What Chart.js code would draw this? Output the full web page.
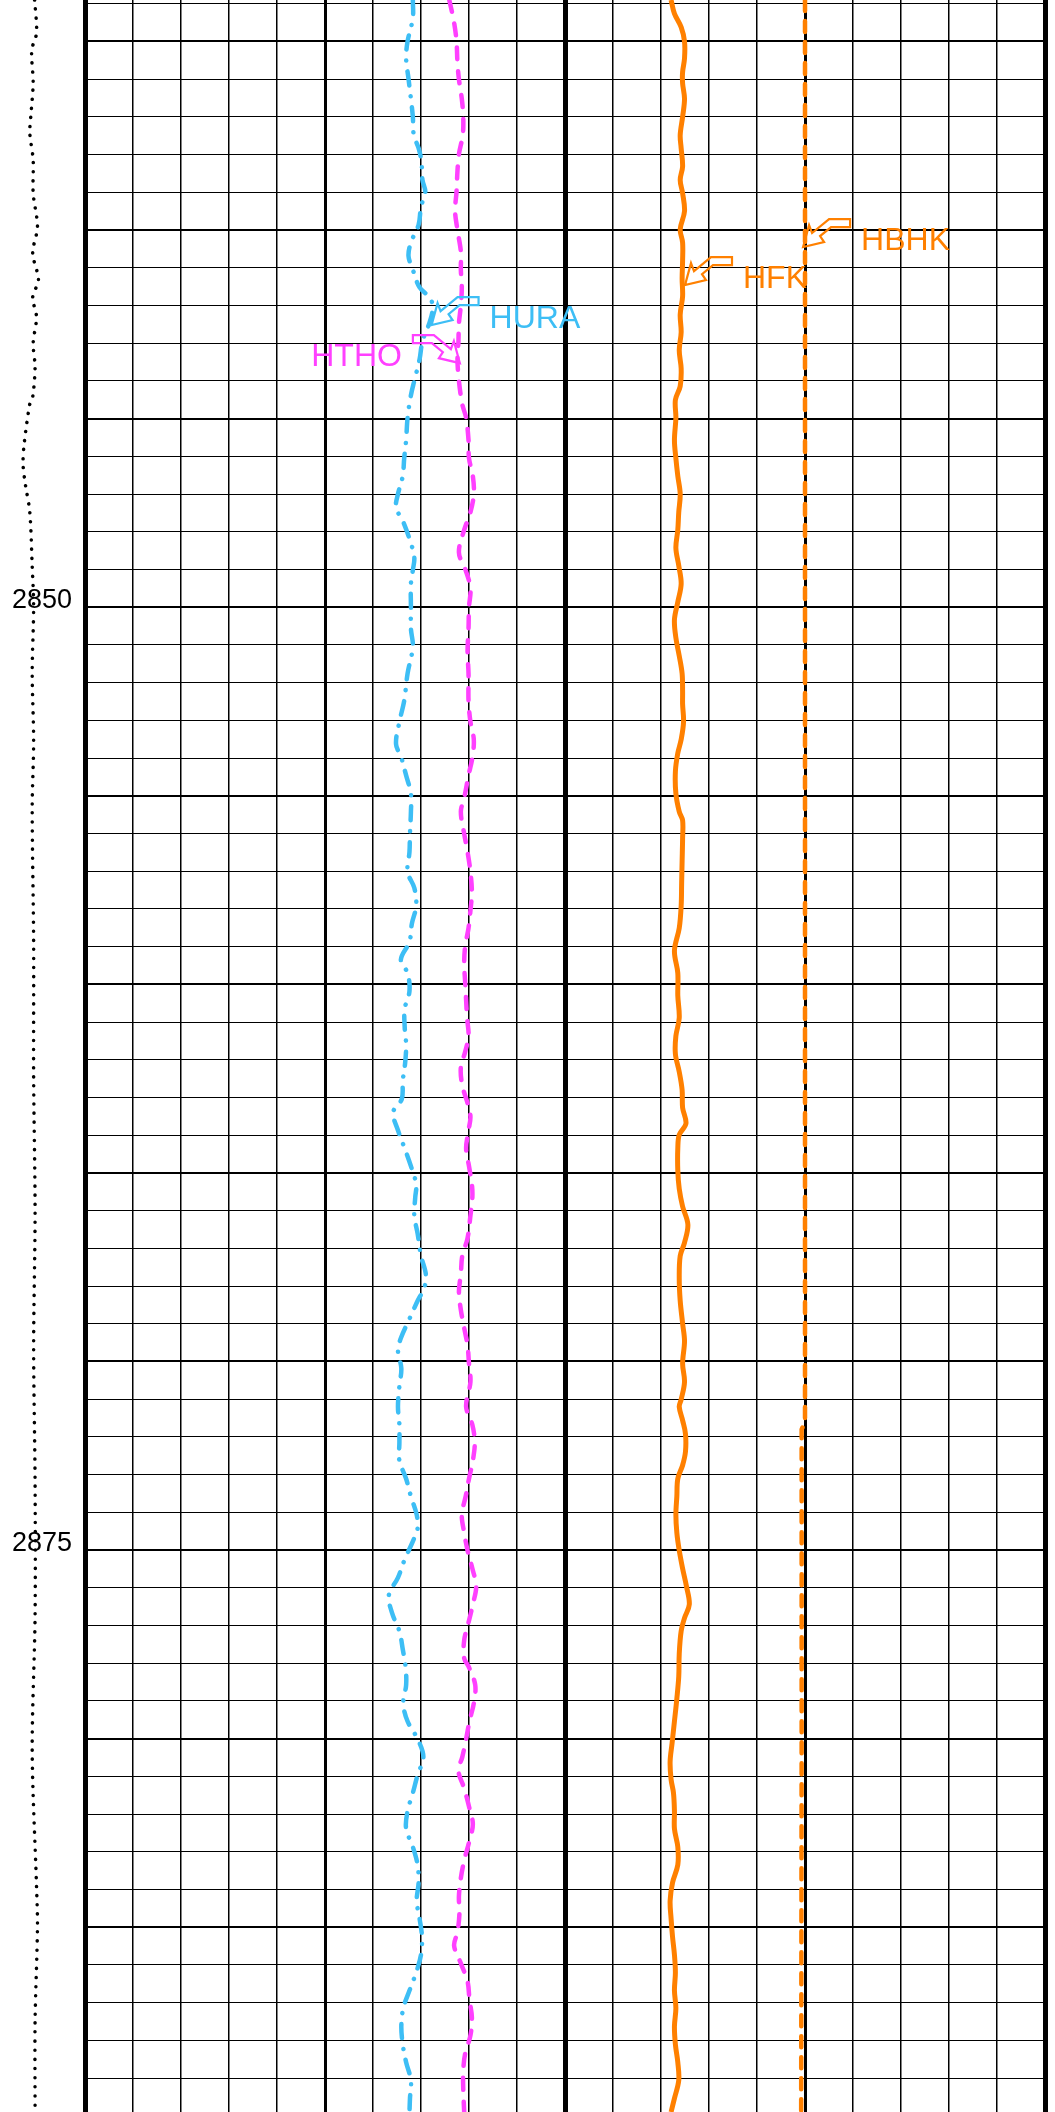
<!DOCTYPE html>
<html>
<head>
<meta charset="utf-8">
<script src="https://cdn.jsdelivr.net/npm/chart.js@4.4.0/dist/chart.umd.min.js"></script>
<style>
  body { margin: 0; background: #fff; }
  #wrap { width: 1055px; height: 2112px; }
</style>
</head>
<body>
<div id="wrap"><canvas id="logChart"></canvas></div>
<script>
// depth window of the track
var depthMin = 2833.9;
var depthMax = 2889.9;
var depthTicks = [];
for (var d = 2834; d <= 2889; d++) depthTicks.push(d);
var depthLabelStep = 25;

// HURA (blue, dash-dot)
var huraDepth = [2833.9, 2834.38, 2835.0, 2835.45, 2835.99, 2836.52, 2837.0, 2837.48, 2837.83, 2838.19, 2838.67, 2838.99, 2839.38, 2839.86, 2840.33, 2840.69, 2841.05, 2841.52, 2841.82, 2842.12, 2842.48, 2842.95, 2843.43, 2844.0, 2844.38, 2844.98, 2845.57, 2846.05, 2846.52, 2847.0, 2847.36, 2847.71, 2848.19, 2848.67, 2849.02, 2849.38, 2850.0, 2850.57, 2851.05, 2851.76, 2852.48,
  2853.04, 2853.63, 2853.99, 2854.46, 2854.94, 2855.42, 2856.01, 2856.49, 2857.02, 2857.44, 2857.92, 2858.39, 2858.87, 2859.35, 2859.7, 2860.18, 2860.65, 2861.13, 2861.61, 2862.08, 2862.56, 2863.04, 2863.39, 2863.87, 2864.35, 2864.82, 2865.3, 2865.65, 2866.13, 2866.61, 2867.2, 2867.68, 2868.04, 2868.39, 2868.87, 2869.35, 2869.7, 2870.18, 2870.65, 2871.2,
  2871.68, 2872.15, 2872.63, 2873.11, 2873.58, 2874.06, 2874.42, 2874.77, 2875.25, 2875.73, 2876.2, 2876.68, 2877.15, 2877.63, 2878.11, 2878.58, 2879.06, 2879.54, 2880.01, 2880.49, 2880.96, 2881.44, 2881.92, 2882.39, 2882.87, 2883.35, 2883.82, 2884.3, 2884.77, 2885.25, 2885.73, 2886.2, 2886.68, 2887.15, 2887.63, 2888.11, 2888.58, 2889.06, 2889.54, 2889.9];
var huraValue = [6.83, 6.83, 6.72, 6.69, 6.74, 6.79, 6.83, 6.85, 6.95, 7.01, 7.03, 7.09, 7.0, 6.95, 6.79, 6.74, 6.83, 6.97, 7.2, 7.24, 7.17, 7.03, 6.97, 6.86, 6.79, 6.72, 6.69, 6.65, 6.62, 6.52, 6.48, 6.62, 6.76, 6.86, 6.83, 6.79, 6.79, 6.79, 6.83, 6.72, 6.65,
  6.55, 6.48, 6.59, 6.69, 6.79, 6.79, 6.77, 6.76, 6.72, 6.86, 6.9, 6.81, 6.76, 6.58, 6.72, 6.76, 6.66, 6.66, 6.69, 6.67, 6.62, 6.6, 6.42, 6.52, 6.66, 6.79, 6.9, 6.88, 6.86, 6.93, 7.0, 7.1, 7.07, 6.93, 6.76, 6.59, 6.52, 6.59, 6.55, 6.52,
  6.55, 6.55, 6.55, 6.69, 6.79, 6.91, 6.93, 6.83, 6.66, 6.52, 6.33, 6.4, 6.55, 6.62, 6.68, 6.69, 6.63, 6.72, 6.93, 7.05, 6.93, 6.83, 6.72, 6.69, 6.83, 6.93, 6.95, 6.91, 6.97, 7.02, 7.0, 6.9, 6.76, 6.63, 6.59, 6.62, 6.69, 6.79, 6.77, 6.76];

// HTHO (magenta, dashed)
var hthoDepth = [2833.9, 2834.5, 2835.0, 2835.57, 2836.0, 2836.52, 2837.0, 2837.48, 2837.99, 2838.43, 2838.99, 2839.5, 2840.0, 2840.57, 2841.05, 2841.52, 2842.0, 2842.48, 2842.95, 2843.43, 2844.0, 2844.62, 2844.98, 2845.57, 2846.05, 2846.52, 2847.0, 2847.48, 2847.95, 2848.55, 2849.02, 2849.5, 2850.0, 2850.57, 2851.17, 2851.76, 2852.48,
  2853.04, 2853.51, 2853.99, 2854.46, 2855.06, 2855.42, 2856.01, 2856.49, 2857.02, 2857.56, 2858.04, 2858.51, 2858.99, 2859.46, 2859.94, 2860.42, 2860.89, 2861.37, 2861.79, 2862.2, 2862.68, 2863.15, 2863.51, 2863.87, 2864.35, 2864.82, 2865.3, 2865.65, 2866.13, 2866.73, 2867.2, 2867.68, 2868.15, 2868.63, 2869.11, 2869.58, 2870.06, 2870.54, 2871.2,
  2871.68, 2872.15, 2872.63, 2873.11, 2873.58, 2874.06, 2874.54, 2875.01, 2875.49, 2875.96, 2876.44, 2876.92, 2877.39, 2877.87, 2878.11, 2878.58, 2879.06, 2879.54, 2880.01, 2880.49, 2880.85, 2881.32, 2881.8, 2882.27, 2882.75, 2883.23, 2883.7, 2884.18, 2884.65, 2885.13, 2885.49, 2885.96, 2886.44, 2886.92, 2887.39, 2887.87, 2888.35, 2888.82, 2889.3, 2889.9];
var hthoValue = [7.59, 7.69, 7.74, 7.76, 7.79, 7.85, 7.88, 7.87, 7.79, 7.76, 7.74, 7.71, 7.76, 7.83, 7.83, 7.85, 7.83, 7.79, 7.78, 7.76, 7.79, 7.86, 7.94, 7.99, 8.0, 8.08, 8.1, 8.03, 7.9, 7.79, 7.93, 8.03, 8.0, 7.99, 7.97, 7.99, 7.99,
  8.03, 8.1, 8.07, 7.99, 7.9, 7.83, 7.9, 7.97, 8.03, 8.06, 8.03, 7.99, 7.92, 7.9, 7.92, 7.94, 7.96, 7.99, 7.92, 7.83, 7.86, 7.97, 8.03, 7.99, 7.94, 8.0, 8.06, 8.07, 8.03, 7.97, 7.86, 7.83, 7.79, 7.83, 7.9, 7.97, 8.0, 8.03, 7.94,
  8.07, 8.12, 8.08, 8.0, 7.93, 7.85, 7.9, 7.97, 8.07, 8.15, 8.08, 7.99, 7.9, 7.9, 8.0, 8.13, 8.1, 8.01, 7.94, 7.86, 7.78, 7.9, 8.0, 8.08, 8.0, 7.9, 7.83, 7.79, 7.8, 7.76, 7.69, 7.83, 7.97, 8.01, 8.06, 8.03, 7.92, 7.88, 7.88, 7.9];

// HFK (orange, solid)
var hfkDepth = [2833.9, 2834.26, 2834.62, 2835.0, 2835.45, 2835.81, 2836.11, 2836.52, 2837.0, 2837.48, 2837.83, 2838.31, 2838.67, 2839.02, 2839.5, 2839.98, 2840.33, 2840.81, 2841.29, 2841.76, 2842.24, 2842.71, 2843.19, 2843.67, 2844.14, 2844.5, 2844.98, 2845.57, 2846.05, 2846.52, 2847.0, 2847.48, 2847.95, 2848.43, 2848.9, 2849.38, 2849.86, 2850.33, 2850.81, 2851.29, 2851.76, 2852.24, 2852.57,
  2853.04, 2853.51, 2853.87, 2854.35, 2854.94, 2855.42, 2855.65, 2856.13, 2856.73, 2857.32, 2857.92, 2858.51, 2859.11, 2859.7, 2860.3, 2860.89, 2861.37, 2861.85, 2862.32, 2862.8, 2863.27, 2863.69, 2863.99, 2864.35, 2864.94, 2865.42, 2865.89, 2866.37, 2866.85, 2867.2, 2867.8, 2868.39, 2868.99, 2869.46, 2870.06, 2870.54, 2871.01,
  2871.2, 2871.56, 2871.92, 2872.39, 2872.75, 2873.11, 2873.58, 2874.06, 2874.54, 2875.01, 2875.49, 2875.96, 2876.44, 2876.8, 2877.15, 2877.75, 2878.35, 2878.94, 2879.54, 2880.13, 2880.61, 2881.08, 2881.44, 2881.92, 2882.39, 2882.87, 2883.35, 2883.82, 2884.3, 2884.77, 2885.25, 2885.73, 2886.2, 2886.68, 2887.15, 2887.63, 2888.11, 2888.58, 2889.06, 2889.54, 2889.9];
var hfkValue = [12.21, 12.28, 12.42, 12.49, 12.49, 12.45, 12.45, 12.49, 12.45, 12.4, 12.42, 12.45, 12.4, 12.45, 12.49, 12.4, 12.45, 12.45, 12.44, 12.45, 12.4, 12.42, 12.38, 12.42, 12.4, 12.3, 12.31, 12.28, 12.31, 12.35, 12.4, 12.37, 12.35, 12.31, 12.37, 12.42, 12.35, 12.28, 12.31, 12.38, 12.44, 12.45, 12.45,
  12.47, 12.42, 12.35, 12.3, 12.31, 12.38, 12.45, 12.45, 12.44, 12.43, 12.42, 12.38, 12.28, 12.35, 12.35, 12.38, 12.31, 12.3, 12.38, 12.44, 12.45, 12.52, 12.38, 12.35, 12.35, 12.38, 12.45, 12.56, 12.49, 12.4, 12.38, 12.4, 12.45, 12.49, 12.45, 12.49, 12.42,
  12.38, 12.45, 12.51, 12.51, 12.45, 12.35, 12.33, 12.31, 12.33, 12.38, 12.45, 12.53, 12.59, 12.49, 12.42, 12.38, 12.37, 12.33, 12.28, 12.23, 12.19, 12.21, 12.26, 12.28, 12.28, 12.35, 12.35, 12.24, 12.19, 12.21, 12.24, 12.28, 12.3, 12.28, 12.31, 12.28, 12.3, 12.35, 12.37, 12.28, 12.21];

// HBHK (orange, dashed)
var hbhkDepth = [2833.9, 2845.0, 2855.0, 2865.0, 2871.6, 2871.8, 2880.0, 2889.9];
var hbhkValue = [15.0, 15.0, 15.0, 15.0, 15.0, 14.93, 14.93, 14.92];

// dotted curve in the depth column
var dotDepth = [2833.9, 2834.03, 2834.78, 2835.23, 2836.1, 2837.0, 2837.43, 2838.14, 2839.02, 2839.92, 2840.61, 2841.32, 2841.78, 2842.31, 2843.0, 2843.63, 2844.43, 2844.61, 2845.7, 2846.23, 2846.76, 2847.48, 2848.91, 2849.97, 2851.74, 2853.55, 2855.32, 2858.9, 2862.48, 2866.04, 2869.62, 2873.2, 2876.75, 2880.33, 2883.91, 2884.97, 2887.49, 2889.9];
var dotValue = [-1.05, -1.04, -1.01, -1.11, -1.08, -1.13, -1.15, -1.08, -1.08, -0.99, -1.09, -0.97, -1.09, -1.01, -1.08, -1.04, -1.09, -1.15, -1.27, -1.29, -1.24, -1.15, -1.1, -1.07, -1.1, -1.07, -1.1, -1.07, -1.07, -1.04, -1.07, -1.04, -1.04, -1.1, -1.01, -0.99, -1.04, -1.04];

// callouts
var calloutNames = ['HBHK', 'HFK', 'HURA', 'HTHO'];
var calloutDepths = [2840.45, 2841.46, 2842.52, 2843.53];
var calloutValues = [14.96, 12.5, 7.22, 7.81];
var calloutSides = [1, 1, 1, -1];
var calloutColors = ['#ff8000', '#ff8000', '#3dbef5', '#ff40ff'];

function pts(ds, vs) {
    var out = [];
    for (var i = 0; i < ds.length; i++) out.push({ x: vs[i], y: ds[i] });
    return out;
}

// arrow outline relative to tip (right-pointing label side)
var arrowShape = [[0, 0], [6, -22], [9, -14], [26, -28], [47, -28], [47, -20], [28, -20], [17, -11], [21, -5]];

var calloutPlugin = {
    id: 'callouts',
    afterDatasetsDraw: function (chart) {
        var ctx = chart.ctx;
        var xs = chart.scales.x, ys = chart.scales.y;
        ctx.save();
        for (var i = 0; i < calloutNames.length; i++) {
            var tx = xs.getPixelForValue(calloutValues[i]);
            var ty = ys.getPixelForValue(calloutDepths[i]);
            var s = calloutSides[i];
            ctx.strokeStyle = calloutColors[i];
            ctx.fillStyle = calloutColors[i];
            ctx.lineWidth = 2.2;
            ctx.beginPath();
            for (var k = 0; k < arrowShape.length; k++) {
                var px = tx + s * arrowShape[k][0], py = ty + arrowShape[k][1];
                if (k == 0) ctx.moveTo(px, py); else ctx.lineTo(px, py);
            }
            ctx.closePath();
            ctx.stroke();
            ctx.font = '32px Arial, "Liberation Sans", sans-serif';
            ctx.textBaseline = 'middle';
            ctx.textAlign = s > 0 ? 'left' : 'right';
            ctx.fillText(calloutNames[i], tx + s * 58, ty - 6);
        }
        ctx.restore();
    }
};

var chart = new Chart(document.getElementById('logChart'), {
    type: 'line',
    data: {
        datasets: [{
            label: 'HURA',
            data: pts(huraDepth, huraValue),
            borderColor: '#3dbef5',
            borderWidth: 4.5,
            borderDash: [14, 11, 0.1, 11],
            borderCapStyle: 'round',
            pointRadius: 0,
            tension: 0.35,
            fill: false
        }, {
            label: 'HTHO',
            data: pts(hthoDepth, hthoValue),
            borderColor: '#ff40ff',
            borderWidth: 4.5,
            borderDash: [12, 12],
            borderCapStyle: 'round',
            pointRadius: 0,
            tension: 0.35,
            fill: false
        }, {
            label: 'HFK',
            data: pts(hfkDepth, hfkValue),
            borderColor: '#ff8000',
            borderWidth: 5,
            pointRadius: 0,
            tension: 0.35,
            fill: false
        }, {
            label: 'HBHK',
            data: pts(hbhkDepth, hbhkValue),
            borderColor: '#ff8000',
            borderWidth: 4.5,
            borderDash: [11, 10],
            borderCapStyle: 'round',
            pointRadius: 0,
            tension: 0,
            fill: false
        }, {
            label: 'depth',
            data: pts(dotDepth, dotValue),
            borderColor: '#000',
            borderWidth: 3.5,
            borderDash: [0.1, 9],
            borderCapStyle: 'round',
            pointRadius: 0,
            tension: 0.3,
            clip: false,
            fill: false
        }]
    },
    options: {
        responsive: true,
        maintainAspectRatio: false,
        animation: false,
        indexAxis: 'y',
        elements: { line: { capBezierPoints: false } },
        layout: { padding: { left: 0, right: 10, top: 0, bottom: 0 } },
        plugins: { legend: { display: false }, tooltip: { enabled: false } },
        scales: {
            x: {
                type: 'linear',
                position: 'bottom',
                min: 0,
                max: 20,
                afterFit: function (s) { s.height = 0; s.paddingLeft = 0; s.paddingRight = 0; },
                ticks: { display: false, stepSize: 1 },
                border: { display: false },
                grid: {
                    drawTicks: false,
                    color: '#000',
                    lineWidth: function (c) {
                        var v = c.tick ? c.tick.value : 0;
                        if (v % 10 === 0) return 5;
                        if (v % 5 === 0) return 3;
                        return 1.5;
                    }
                }
            },
            y: {
                type: 'linear',
                reverse: true,
                min: depthMin,
                max: depthMax,
                afterBuildTicks: function (s) {
                    s.ticks = depthTicks.map(function (v) { return { value: v }; });
                },
                afterFit: function (s) { s.width = 85; s.paddingTop = 0; s.paddingBottom = 0; },
                border: { display: true, color: '#000', width: 5 },
                ticks: {
                    autoSkip: false,
                    padding: 13,
                    labelOffset: -7,
                    color: '#000',
                    font: { family: 'Arial, "Liberation Sans", sans-serif', size: 27 },
                    callback: function (v) { return v % depthLabelStep === 0 ? String(v) : ''; }
                },
                grid: {
                    drawTicks: false,
                    color: '#000',
                    lineWidth: function (c) {
                        var v = c.tick ? c.tick.value : 0;
                        if (v % 5 === 0) return 2;
                        return 1;
                    }
                }
            }
        }
    },
    plugins: [calloutPlugin]
});
</script>
</body>
</html>
